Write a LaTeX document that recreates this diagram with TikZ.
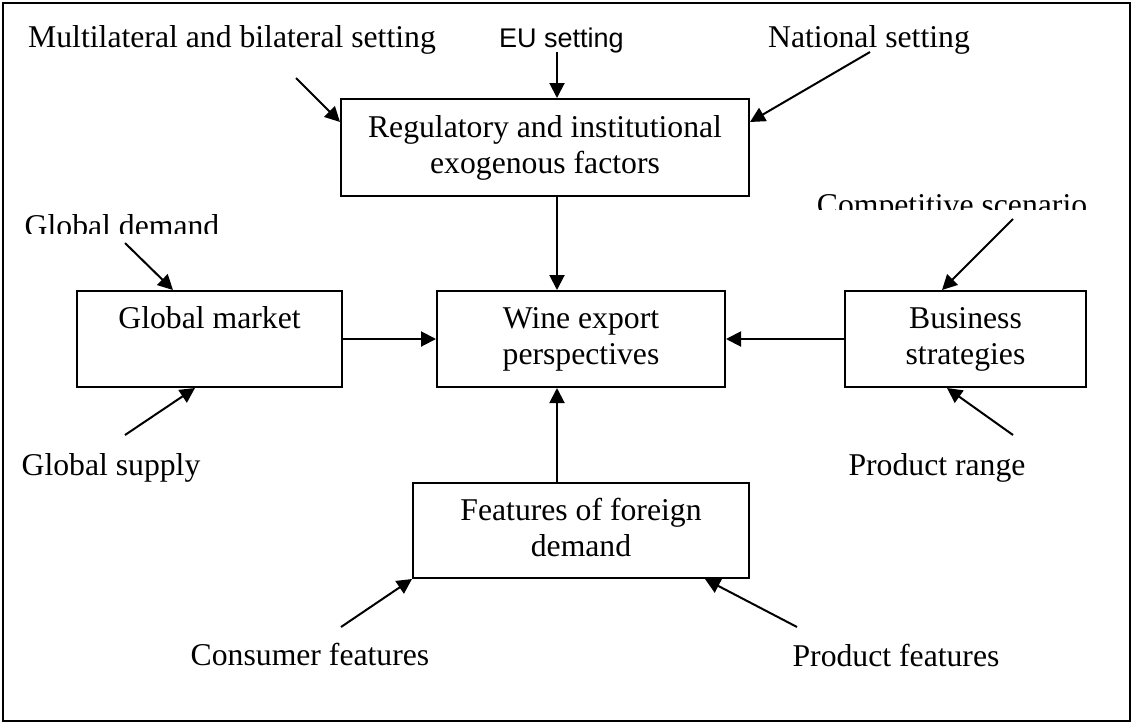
\documentclass[tikz,border=0pt]{standalone}
\usepackage{fontspec}
\setmainfont{Liberation Serif}
\newfontfamily\eufont{Liberation Sans}
\usetikzlibrary{arrows.meta}
\tikzset{>={Triangle[length=15pt,width=15pt]}}
\newcommand{\bigserif}{\fontsize{31.7}{36}\selectfont}
\newcommand{\wstrut}{\rule[-7pt]{0pt}{29pt}}

\begin{document}
\begin{tikzpicture}[x=1pt, y=-1pt,
  box/.style={draw, line width=2pt, align=center, inner sep=0pt, font=\bigserif,
    execute at begin node=\wstrut, execute at end node=\wstrut},
  txt/.style={anchor=base, inner sep=0pt, font=\bigserif},
  flow/.style={->, line width=2pt}]
\useasboundingbox (0,0) rectangle (1134,724);
\draw[line width=2pt] (3,3) rectangle (1130,721);

\node[box, minimum width=408pt, minimum height=97pt] (reg) at (545,147.5)
  {Regulatory and institutional\\exogenous factors};
\node[box, minimum width=288pt, minimum height=96pt] (wine) at (581,339)
  {Wine export\\perspectives};
\node[box, minimum width=265pt, minimum height=96pt] (glob) at (209.5,339)
  {Global market\\};
\node[box, minimum width=241pt, minimum height=96pt] (bus) at (965.5,339)
  {Business\\strategies};
\node[box, minimum width=336pt, minimum height=95pt] (feat) at (581,530.5)
  {Features of foreign\\demand};

\node[txt] (multi) at (232,47) {Multilateral and bilateral setting};
\node[txt, anchor=base west, font=\eufont\fontsize{27}{32}\selectfont] (eu) at (499,47) {EU setting};
\node[txt] (nat) at (869,47) {National setting};
\begin{scope}
\clip (0,0) rectangle (1134,233);
\node[txt] (gdem) at (122,236) {Global demand};
\end{scope}
\begin{scope}
\clip (0,0) rectangle (1134,209);
\node[txt] (comp) at (952,215) {Competitive scenario};
\end{scope}
\node[txt] (gsup) at (111,475) {Global supply};
\node[txt] (prange) at (937,475) {Product range};
\node[txt] (cons) at (310,665) {Consumer features};
\node[txt] (pfeat) at (896,666) {Product features};

\coordinate (multi-s) at (296,78);
\coordinate (eu-s) at (557,52);
\coordinate (nat-s) at (870,52);
\coordinate (gdem-s) at (125,243);
\coordinate (gsup-s) at (125,435);
\coordinate (comp-s) at (1013,219);
\coordinate (prange-s) at (1013,435);
\coordinate (cons-s) at (341,627);
\coordinate (pfeat-s) at (797,627);

\draw[flow] (multi-s) -- ([yshift=25.5pt]reg.west);
\draw[flow] (eu-s) -- (eu-s |- reg.north);
\draw[flow] (nat-s) -- ([yshift=25.5pt]reg.east);
\draw[flow] (eu-s |- reg.south) -- (eu-s |- wine.north);
\draw[flow] (gdem-s) -- ([xshift=-36.5pt]glob.north);
\draw[flow] (gsup-s) -- ([xshift=-14.5pt]glob.south);
\draw[flow] (glob.east) -- (wine.west);
\draw[flow] (bus.west) -- (wine.east);
\draw[flow] (comp-s) -- ([xshift=-23.5pt]bus.north);
\draw[flow] (prange-s) -- ([xshift=-18.5pt]bus.south);
\draw[flow] (eu-s |- feat.north) -- (eu-s |- wine.south);
\draw[flow] (cons-s) -- (feat.south west);
\draw[flow] (pfeat-s) -- ([xshift=124pt]feat.south);
\end{tikzpicture}
\end{document}
